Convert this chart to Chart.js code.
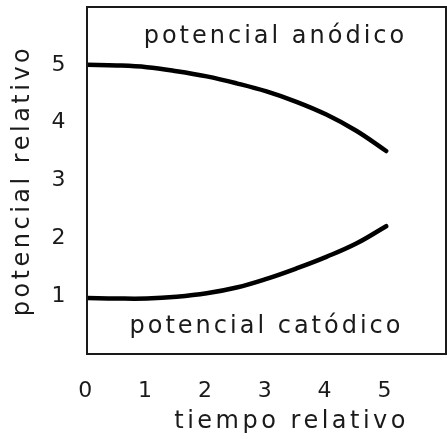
<!DOCTYPE html>
<html>
<head>
<meta charset="utf-8">
<script src="https://cdn.jsdelivr.net/npm/chart.js@4/dist/chart.umd.min.js"></script>
<style>
  html, body { margin: 0; padding: 0; background: #fff }
  #wrap { width: 447px; height: 439px }
</style>
</head>
<body>
<div id="wrap"><canvas id="chartPotential"></canvas></div>
<script>
const tiempo = [0, 0.5, 1, 1.5, 2, 2.5, 3, 3.5, 4, 4.5, 5]
const anodico = [5.0, 4.99, 4.96, 4.89, 4.8, 4.68, 4.54, 4.36, 4.14, 3.86, 3.51]
const catodico = [0.97, 0.96, 0.96, 0.99, 1.05, 1.15, 1.3, 1.48, 1.68, 1.91, 2.21]
const xTicks = [0, 1, 2, 3, 4, 5]
const yTicks = [1, 2, 3, 4, 5]
const curveLabels = ['potencial anódico', 'potencial catódico']
const xTitle = 'tiempo relativo'
const yTitle = 'potencial relativo'

const ink = '#1a1a1a'
const fontFamily = '"DejaVu Sans", sans-serif'

const toPoints = (ys) => tiempo.map((t, i) => ({ x: t, y: ys[i] }))

// letter spacing + frame + text labels inside the box
const drawingPlugin = {
  id: 'drawing',
  beforeDraw (chart) {
    chart.ctx.letterSpacing = '3.5px'
  },
  afterDraw (chart) {
    const { ctx, chartArea, scales } = chart
    ctx.save()
    ctx.strokeStyle = ink
    ctx.lineWidth = 2
    ctx.strokeRect(chartArea.left, chartArea.top, chartArea.right - chartArea.left, chartArea.bottom - chartArea.top)

    ctx.fillStyle = ink
    ctx.font = '24px ' + fontFamily
    ctx.letterSpacing = '3px'
    ctx.textAlign = 'center'
    ctx.textBaseline = 'alphabetic'
    ctx.fillText(curveLabels[0], scales.x.getPixelForValue(3.15), scales.y.getPixelForValue(5.38))
    ctx.fillText(curveLabels[1], scales.x.getPixelForValue(3.0), scales.y.getPixelForValue(0.36))

    ctx.letterSpacing = '3.5px'
    ctx.textBaseline = 'middle'
    ctx.fillText(xTitle, scales.x.getPixelForValue(3.42), 422)
    ctx.restore()
  }
}

function potentialChart () {
  const canvas = document.getElementById('chartPotential').getContext('2d')
  const line = (label, ys) => ({
    label,
    data: toPoints(ys),
    borderColor: '#000',
    borderWidth: 4.5,
    borderCapStyle: 'round',
    tension: 0.4,
    pointRadius: 0,
    fill: false
  })

  window.potentialChart = new Chart(canvas, {
    type: 'line',
    data: {
      datasets: [line(curveLabels[0], anodico), line(curveLabels[1], catodico)]
    },
    options: {
      responsive: true,
      maintainAspectRatio: false,
      animation: false,
      layout: { padding: { top: 7, right: 1, left: 0, bottom: 0 } },
      plugins: {
        legend: { display: false },
        tooltip: { enabled: false }
      },
      scales: {
        x: {
          type: 'linear',
          min: 0,
          max: 6,
          afterFit (scale) {
            scale.height = 85
            scale.paddingLeft = 0
            scale.paddingRight = 0
          },
          afterBuildTicks (scale) { scale.ticks = xTicks.map(v => ({ value: v })) },
          grid: { display: false, drawTicks: false },
          border: { display: false },
          ticks: {
            color: ink,
            font: { family: fontFamily, size: 22 },
            padding: 24,
            maxRotation: 0,
            autoSkip: false
          }
        },
        y: {
          min: 0,
          max: 6,
          afterFit (scale) {
            scale.width = 87
            scale.paddingTop = 0
            scale.paddingBottom = 0
          },
          afterBuildTicks (scale) { scale.ticks = yTicks.map(v => ({ value: v })) },
          grid: { display: false, drawTicks: false },
          border: { display: false },
          ticks: {
            color: ink,
            font: { family: fontFamily, size: 22 },
            padding: 18
          },
          title: {
            display: true,
            text: yTitle,
            color: ink,
            font: { family: fontFamily, size: 24 },
            padding: { top: 8, bottom: 0 }
          }
        }
      }
    },
    plugins: [drawingPlugin]
  })
}

potentialChart()
</script>
</body>
</html>
